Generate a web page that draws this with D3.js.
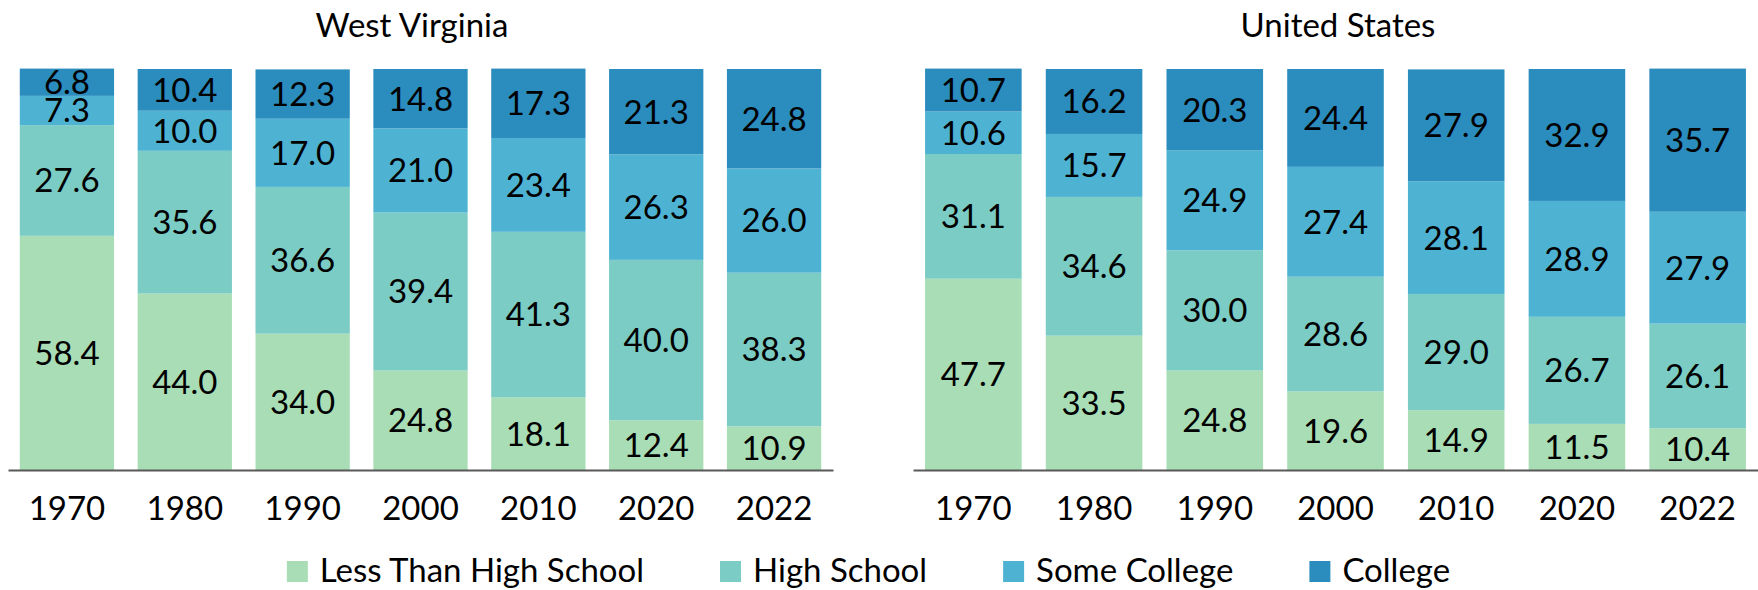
<!DOCTYPE html>
<html>
<head>
<meta charset="utf-8">
<script src="https://cdn.jsdelivr.net/npm/d3@7"></script>
<style>
  html, body { margin: 0; padding: 0; background: #fff; }
  svg { display: block; }
  text { font-family: Lato, "Open Sans", sans-serif; fill: #000; }
</style>
</head>
<body>
<svg id="chart" width="1758" height="590"></svg>
<script>
// ---- Data ----
const years = ["1970", "1980", "1990", "2000", "2010", "2020", "2022"];
const seriesNames = ["Less Than High School", "High School", "Some College", "College"];
const seriesColors = ["#a8ddb5", "#7bccc4", "#4eb3d3", "#2b8cbe"];

const wvLess    = [58.4, 44.0, 34.0, 24.8, 18.1, 12.4, 10.9];
const wvHS      = [27.6, 35.6, 36.6, 39.4, 41.3, 40.0, 38.3];
const wvSome    = [7.3, 10.0, 17.0, 21.0, 23.4, 26.3, 26.0];
const wvCollege = [6.8, 10.4, 12.3, 14.8, 17.3, 21.3, 24.8];

const usLess    = [47.7, 33.5, 24.8, 19.6, 14.9, 11.5, 10.4];
const usHS      = [31.1, 34.6, 30.0, 28.6, 29.0, 26.7, 26.1];
const usSome    = [10.6, 15.7, 24.9, 27.4, 28.1, 28.9, 27.9];
const usCollege = [10.7, 16.2, 20.3, 24.4, 27.9, 32.9, 35.7];

const panelTitles = ["West Virginia", "United States"];

// ---- Layout ----
const svg = d3.select("#chart");
const FS = 33;
const y = d3.scaleLinear().domain([0, 100]).range([470, 69]);

const panels = [
  { title: panelTitles[0], range: [8, 833], titleX: 412, data: [wvLess, wvHS, wvSome, wvCollege] },
  { title: panelTitles[1], range: [913, 1758], titleX: 1338, data: [usLess, usHS, usSome, usCollege] }
];

panels.forEach(p => {
  const x = d3.scaleBand().domain(years).range(p.range).paddingInner(0.2).paddingOuter(0.1);
  const rows = years.map((yr, i) => {
    const r = { year: yr };
    seriesNames.forEach((s, k) => r[s] = p.data[k][i]);
    return r;
  });
  const stacked = d3.stack().keys(seriesNames)(rows);

  const g = svg.append("g");
  const layers = g.selectAll("g.layer").data(stacked).join("g")
    .attr("class", "layer")
    .attr("fill", (d, i) => seriesColors[i]);

  layers.selectAll("rect").data(d => d).join("rect")
    .attr("x", d => x(d.data.year))
    .attr("width", x.bandwidth())
    .attr("y", d => y(d[1]))
    .attr("height", d => y(d[0]) - y(d[1]));

  layers.selectAll("text").data(d => d.map(v => ({ v, key: d.key }))).join("text")
    .attr("x", d => x(d.v.data.year) + x.bandwidth() / 2)
    .attr("y", d => (y(d.v[0]) + y(d.v[1])) / 2)
    .attr("dy", "0.36em")
    .attr("text-anchor", "middle")
    .style("font-size", FS + "px")
    .text(d => d3.format(".1f")(d.v.data[d.key]));

  const axis = g.append("g")
    .attr("transform", `translate(0,${y(0)})`)
    .call(d3.axisBottom(x).tickSize(0).tickSizeOuter(0));
  axis.select(".domain").attr("stroke", "#595959").attr("stroke-width", 2);
  axis.selectAll(".tick text")
    .attr("y", 50).attr("dy", 0)
    .attr("fill", "#000")
    .style("font-size", FS + "px")
    .style("font-family", "Lato, 'Open Sans', sans-serif");

  g.append("text")
    .attr("x", p.titleX)
    .attr("y", 37)
    .attr("text-anchor", "middle")
    .style("font-size", FS + "px")
    .text(p.title);
});

// ---- Legend ----
const legend = svg.append("g");
const items = legend.selectAll("g").data(seriesNames).join("g");
items.append("rect").attr("width", 21).attr("height", 21).attr("y", 561)
  .attr("fill", (d, i) => seriesColors[i]);
items.append("text").attr("y", 582).style("font-size", FS + "px").text(d => d);
let cx = 0;
const gapText = 12, gapItem = 76;
const positions = [];
items.each(function () {
  const w = d3.select(this).select("text").node().getComputedTextLength();
  positions.push(cx);
  cx += 21 + gapText + w + gapItem;
});
const total = cx - gapItem;
const start = 868.5 - total / 2;
items.each(function (d, i) {
  const s = d3.select(this);
  s.select("rect").attr("x", start + positions[i]);
  s.select("text").attr("x", start + positions[i] + 21 + gapText);
});
</script>
</body>
</html>
